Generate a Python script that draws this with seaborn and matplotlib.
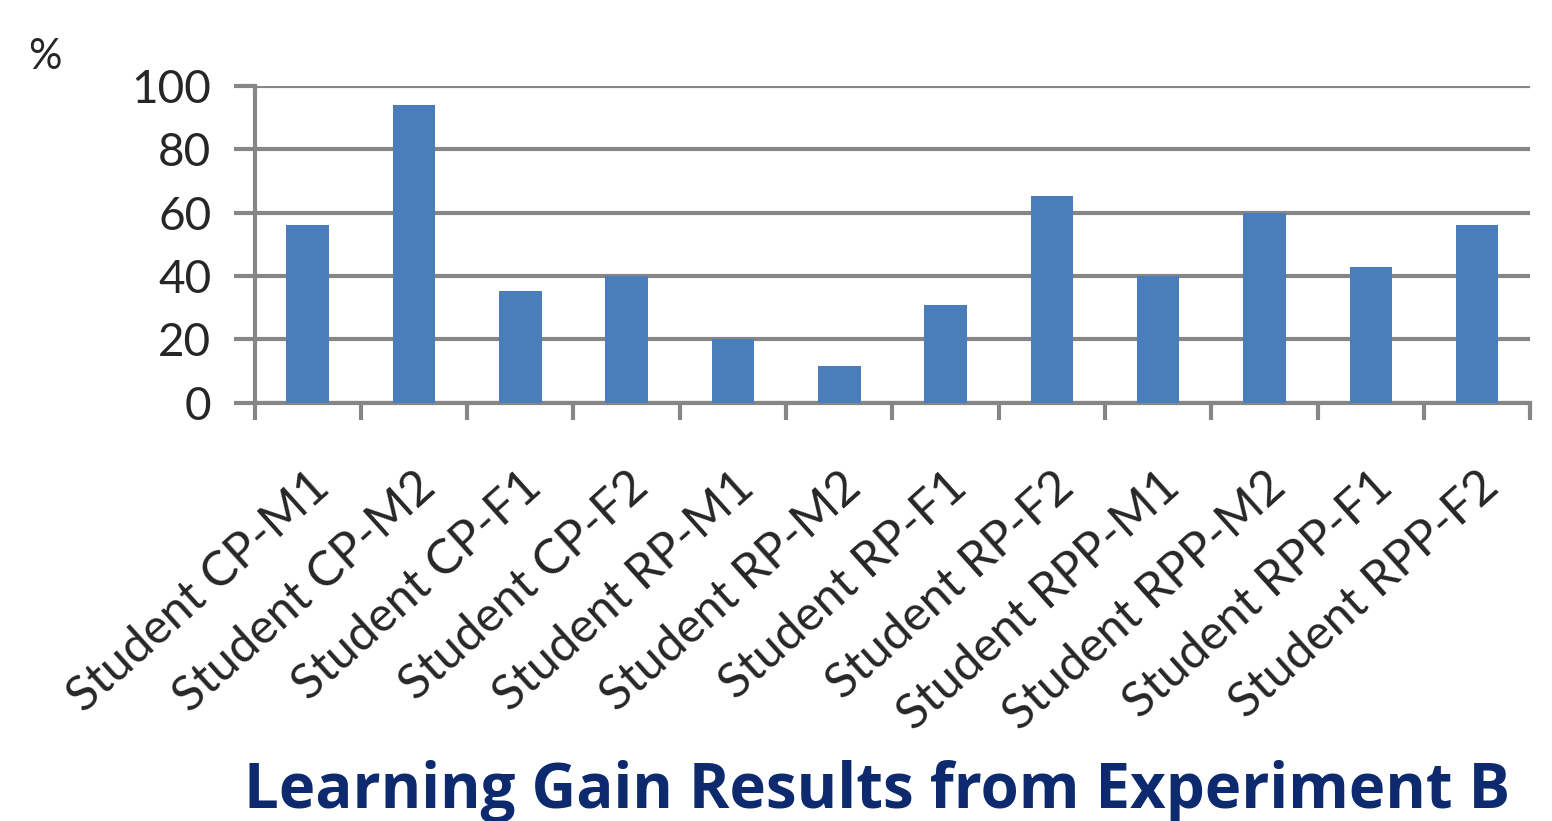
import numpy as np
import pandas as pd
import matplotlib
matplotlib.use('Agg')
import matplotlib.pyplot as plt
import seaborn as sns

students = ['Student CP-M1', 'Student CP-M2', 'Student CP-F1', 'Student CP-F2',
            'Student RP-M1', 'Student RP-M2', 'Student RP-F1', 'Student RP-F2',
            'Student RPP-M1', 'Student RPP-M2', 'Student RPP-F1', 'Student RPP-F2']
gain = [56, 94, 35.3, 40, 20, 11.5, 30.7, 65.3, 40, 60, 42.9, 56]
y_ticks = [0, 20, 40, 60, 80, 100]

df = pd.DataFrame({'student': students, 'gain': gain})

sns.set_style('white')
plt.rcParams['font.family'] = ['Lato', 'DejaVu Sans']

fig = plt.figure(figsize=(15.52, 8.21), dpi=100)
ax = fig.add_axes([0.164, 0.5095, 0.822, 0.3861])

sns.barplot(data=df, x='student', y='gain', color='#4a7ebb', saturation=1,
            width=0.4, linewidth=0, ax=ax, zorder=3)

grey = '#868686'
ax.set_ylim(0, 100)
ax.set_xlim(-0.5, len(students) - 0.5)
ax.set_yticks(y_ticks)
ax.set_yticklabels([str(v) for v in y_ticks], fontsize=33)
ax.yaxis.grid(True, color=grey, linewidth=3, zorder=0)
ax.set_axisbelow(True)

# tick marks between categories, like the spreadsheet chart
ax.set_xticks(range(len(students)))
ax.set_xticklabels(students, rotation=42, ha='right', rotation_mode='anchor', fontsize=35)
ax.set_xticks(np.arange(-0.5, len(students), 1), minor=True)
ax.tick_params(axis='x', which='major', bottom=True, length=0, pad=44)
ax.tick_params(axis='x', which='minor', bottom=True, length=12, width=3, color=grey, direction='out')
ax.tick_params(axis='y', left=True, length=15, width=3, color=grey, direction='out', pad=16)

for s in ['top', 'right']:
    ax.spines[s].set_visible(False)
for s in ['left', 'bottom']:
    ax.spines[s].set_color(grey)
    ax.spines[s].set_linewidth(3)

ax.set_xlabel('')
ax.set_ylabel('')
fig.text(0.029, 0.93, '%', fontsize=30, ha='center', va='center')
fig.text(0.565, 0.016, 'Learning Gain Results from Experiment B', fontsize=44.5,
         fontweight='bold', color='#0d2a6e', ha='center', va='baseline',
         family=['Open Sans', 'DejaVu Sans'])

fig.savefig('out.png', dpi=100)
